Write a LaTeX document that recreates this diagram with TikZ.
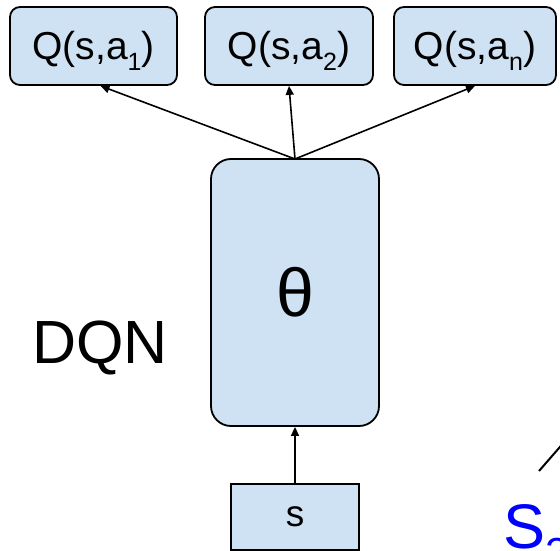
\documentclass[tikz,border=0pt]{standalone}
\usepackage{fontspec}
\setmainfont{Liberation Sans}
\usetikzlibrary{arrows.meta}
\definecolor{boxblue}{HTML}{CFE2F3}
\newcommand{\lowsub}[3][24]{\raisebox{#2}{\fontsize{#1}{#1}\selectfont #3}}
\tikzset{
  qbox/.style={draw=black, fill=boxblue, line width=1.8pt, rounded corners=10pt,
    inner sep=0pt, text height=53pt, text depth=25pt,
    font=\fontsize{39}{39}\selectfont},
  netbox/.style={draw=black, fill=boxblue, line width=1.8pt, rounded corners=20pt,
    inner sep=0pt, minimum width=168pt, minimum height=267pt,
    font=\fontsize{68}{68}\selectfont},
  inbox/.style={draw=black, fill=boxblue, line width=1.8pt, inner sep=0pt,
    minimum width=128pt, minimum height=66pt,
    font=\fontsize{37}{37}\selectfont},
  arr/.style={line width=1.6pt, -{Triangle[length=9pt,width=8pt]}},
  plainline/.style={line width=2pt}
}
\begin{document}
\begin{tikzpicture}[x=1pt, y=-1pt]
\useasboundingbox (0,0) rectangle (560,551);
\clip (0,0) rectangle (560,551);
% output boxes
\node[qbox, minimum width=167pt] (q1) at (93.5,46) {Q(s,a\lowsub[25]{-10pt}{1})};
\node[qbox, minimum width=168pt] (q2) at (289,46) {Q(s,a\lowsub[25]{-10pt}{2})};
\node[qbox, minimum width=162pt] (qn) at (475,46) {Q(s,a\lowsub[25]{-10pt}{n})};
% network
\node[netbox] (net) at (295,292.5) {θ};
\node[anchor=base, font=\fontsize{61}{61}\selectfont, inner sep=0pt] (dqn) at (100,363) {DQN};
% input
\node[inbox] (s) at (295,517) {s};
% connectors
\coordinate (top) at (295,159);
\draw[arr] (top) -- ([xshift=7pt]q1.south);
\draw[arr] (top) -- (q2.south);
\draw[arr] (top) -- (qn.south);
\draw[arr] (s.north) -- (net.south);
% next state label and its edge
\node[anchor=base west, inner sep=0pt, text=blue, font=\fontsize{63}{63}\selectfont] (s2) at (503,548) {S\lowsub[42]{-19pt}{2}};
\coordinate (e1) at (539,471);
\coordinate (e2) at (566,440);
\draw[plainline] (e1) -- (e2);
\end{tikzpicture}
\end{document}
